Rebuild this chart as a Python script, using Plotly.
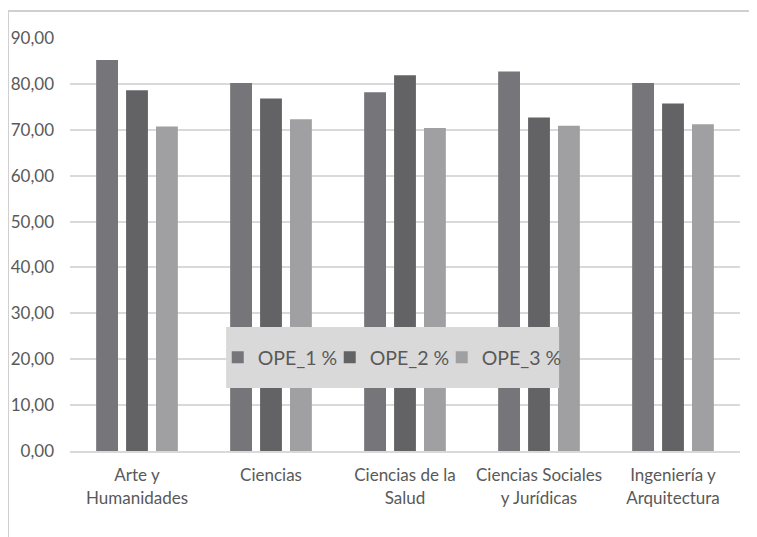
import plotly.graph_objects as go

categories = ["Arte y<br>Humanidades", "Ciencias", "Ciencias de la<br>Salud",
              "Ciencias Sociales<br>y Jurídicas", "Ingeniería y<br>Arquitectura"]
ope1 = [85.2, 80.2, 78.2, 82.7, 80.2]
ope2 = [78.6, 76.8, 81.9, 72.7, 75.7]
ope3 = [70.7, 72.3, 70.4, 70.9, 71.2]
series_names = ["OPE_1 %", "OPE_2 %", "OPE_3 %"]
colors = ["#76767a", "#636366", "#a0a0a3"]

fig = go.Figure()
for name, vals, col in zip(series_names, [ope1, ope2, ope3], colors):
    fig.add_trace(go.Bar(x=categories, y=vals, name=name, marker_color=col,
                         marker_line_width=0))
# spacer legend entry (invisible) so the last legend label is not clipped
fig.add_trace(go.Scatter(x=[None], y=[None], mode="markers", name=" ",
                         marker=dict(color="rgba(0,0,0,0)"), hoverinfo="skip",
                         showlegend=True))

fig.update_layout(
    width=749, height=529,
    margin=dict(l=62, r=17, t=30, b=86, autoexpand=False),
    paper_bgcolor="white", plot_bgcolor="white",
    separators=",.",
    barmode="group", bargap=0.33, bargroupgap=0.27,
    font=dict(family="Lato, Open Sans, sans-serif", color="#595959", size=16),
    showlegend=True,
    legend=dict(orientation="h", x=0.2205, y=0.226, xanchor="left", yanchor="middle",
                bgcolor="rgba(0,0,0,0)", font=dict(size=19.5, color="#595959"),
                borderwidth=0, itemwidth=30, entrywidth=67),
    xaxis=dict(showgrid=False, showline=True, linecolor="#d9d9d9", linewidth=2,
               ticks="", tickfont=dict(size=17), ticklabelstandoff=8,
               automargin=False),
    yaxis=dict(range=[0, 90], dtick=10, tickformat=".2f", showgrid=True,
               gridcolor="#d9d9d9", gridwidth=2, zeroline=False, showline=False,
               ticks="", tickfont=dict(size=17), ticklabelstandoff=15,
               automargin=False),
    shapes=[
        dict(type="rect", xref="paper", yref="paper", x0=0.233, x1=0.730,
             y0=0.1525, y1=0.3002, fillcolor="#d9d9d9", line=dict(width=0),
             layer="above"),
        dict(type="line", xref="paper", yref="paper", x0=-0.0925, x1=-0.0925,
             y0=1.0654, y1=-0.25, line=dict(color="#d0d0d0", width=2)),
        dict(type="line", xref="paper", yref="paper", x0=-0.0925, x1=1.03,
             y0=1.0654, y1=1.0654, line=dict(color="#d0d0d0", width=2)),
    ],
)

fig.write_html("out.html")
